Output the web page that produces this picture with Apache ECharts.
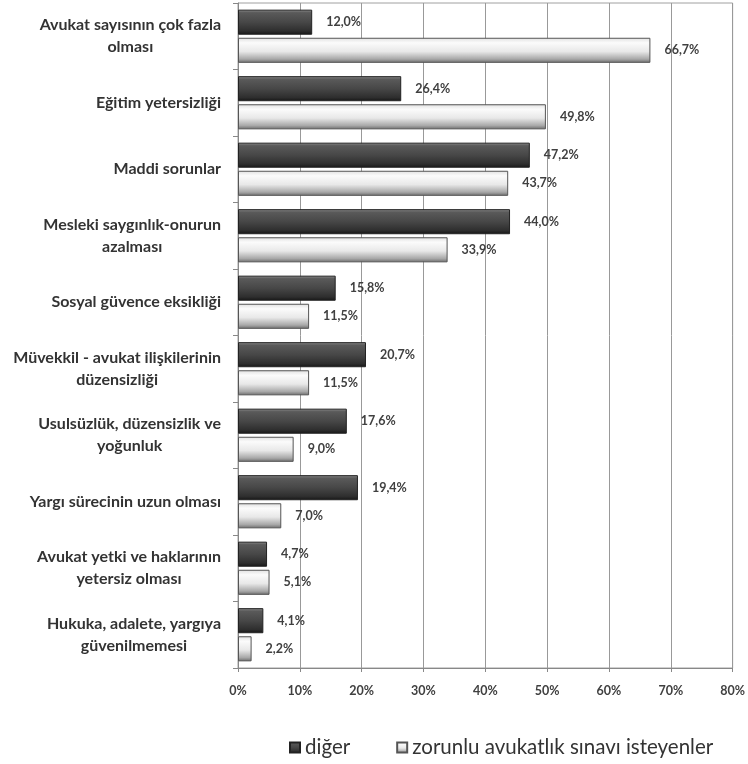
<!DOCTYPE html>
<html>
<head>
<meta charset="utf-8">
<script src="https://cdn.jsdelivr.net/npm/echarts@6/dist/echarts.min.js"></script>
<style>html,body{margin:0;padding:0;background:#fff;}#c{width:748px;height:764px;}</style>
</head>
<body>
<div id="c"></div>
<script>
const categories = [
  "Avukat sayısının çok fazla\nolması",
  "Eğitim yetersizliği",
  "Maddi sorunlar",
  "Mesleki saygınlık-onurun\nazalması",
  "Sosyal güvence eksikliği",
  "Müvekkil - avukat ilişkilerinin\ndüzensizliği",
  "Usulsüzlük, düzensizlik ve\nyoğunluk",
  "Yargı sürecinin uzun olması",
  "Avukat yetki ve haklarının\nyetersiz olması",
  "Hukuka, adalete, yargıya\ngüvenilmemesi"
];
const seriesNames = ["diğer", "zorunlu avukatlık sınavı isteyenler"];
const digerValues = [12.0, 26.4, 47.2, 44.0, 15.8, 20.7, 17.6, 19.4, 4.7, 4.1];
const zorunluValues = [66.7, 49.8, 43.7, 33.9, 11.5, 11.5, 9.0, 7.0, 5.1, 2.2];
const xTickLabels = ["0%", "10%", "20%", "30%", "40%", "50%", "60%", "70%", "80%"];

const chart = echarts.init(document.getElementById('c'), null, {renderer: 'canvas'});
const fmt = v => v.toFixed(1).replace('.', ',') + '%';

const darkGrad = new echarts.graphic.LinearGradient(0, 0, 0, 1, [
  {offset: 0, color: '#8e8e8e'},
  {offset: 0.12, color: '#5a5a5a'},
  {offset: 0.5, color: '#474747'},
  {offset: 0.85, color: '#2e2e2e'},
  {offset: 1, color: '#151515'}
]);
const lightGrad = new echarts.graphic.LinearGradient(0, 0, 0, 1, [
  {offset: 0, color: '#e0e0e0'},
  {offset: 0.2, color: '#fbfbfb'},
  {offset: 0.55, color: '#e8e8e8'},
  {offset: 0.85, color: '#a8a8a8'},
  {offset: 1, color: '#6a6a6a'}
]);

const labelCommon = {
  show: true,
  position: 'right',
  distance: 14,
  fontFamily: 'Lato',
  fontWeight: 'bold',
  fontSize: 12.5,
  color: '#404040',
  formatter: p => fmt(p.value)
};

chart.setOption({
  animation: false,
  backgroundColor: '#fff',
  grid: {left: 238, right: 15, top: 3, bottom: 96, show: true, borderColor: '#a0a0a0', borderWidth: 1},
  legend: {
    data: seriesNames,
    left: 284,
    top: 732,
    itemWidth: 10,
    itemHeight: 10,
    itemGap: 46,
    icon: 'rect',
    textStyle: {fontFamily: 'Lato', fontSize: 20.5, color: '#333'}
  },
  xAxis: {
    type: 'value',
    min: 0,
    max: 80,
    interval: 10,
    axisLine: {show: true, lineStyle: {color: '#888', width: 1}},
    axisTick: {show: true, length: 4, lineStyle: {color: '#888'}},
    splitLine: {show: true, lineStyle: {color: '#999', width: 1}},
    axisLabel: {
      margin: 16,
      fontFamily: 'Lato',
      fontWeight: 'bold',
      fontSize: 12.5,
      color: '#404040',
      formatter: (v) => xTickLabels[Math.round(v / 10)]
    }
  },
  yAxis: {
    type: 'category',
    data: categories,
    inverse: true,
    axisLine: {show: true, lineStyle: {color: '#888', width: 1}},
    axisTick: {show: true, length: 5, alignWithLabel: false, lineStyle: {color: '#888'}},
    axisLabel: {
      margin: 17,
      align: 'right',
      fontFamily: 'Lato',
      fontWeight: 'bold',
      fontSize: 16,
      color: '#333',
      lineHeight: 22,
      formatter: v => v.split('\n').map(s => '{c|' + s + '}').join('\n'),
      rich: {c: {align: 'center', fontFamily: 'Lato', fontWeight: 'bold', fontSize: 16, color: '#333', lineHeight: 22}}
    }
  },
  series: [
    {
      name: seriesNames[0],
      type: 'bar',
      data: digerValues,
      barGap: '12%',
      barCategoryGap: '20%',
      itemStyle: {color: darkGrad, borderColor: '#222', borderWidth: 1},
      label: labelCommon
    },
    {
      name: seriesNames[1],
      type: 'bar',
      data: zorunluValues,
      itemStyle: {color: lightGrad, borderColor: '#555', borderWidth: 1},
      label: labelCommon
    }
  ]
});
</script>
</body>
</html>
